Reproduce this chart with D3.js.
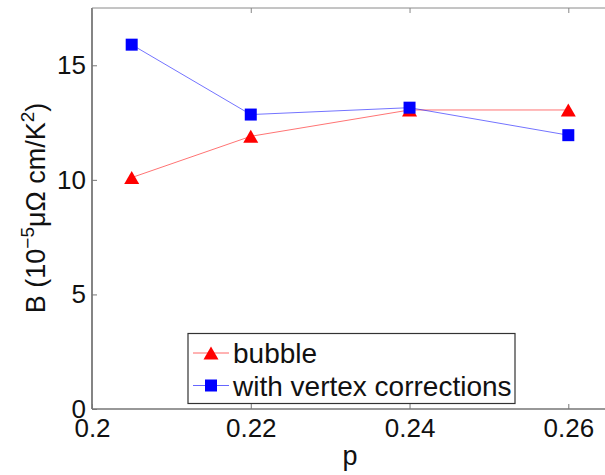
<!DOCTYPE html>
<html>
<head>
<meta charset="utf-8">
<script src="https://cdn.jsdelivr.net/npm/d3@7"></script>
<style>
  html, body { margin: 0; padding: 0; background: #fff; }
  svg { display: block; font-family: "Liberation Sans", Arial, Helvetica, sans-serif; }
</style>
</head>
<body>
<svg id="chart" width="605" height="475"></svg>
<script>
// Doping levels p
const pValues = [0.205, 0.22, 0.24, 0.26];
// B coefficient (10^-5 μΩ cm/K^2)
const bubble = [10.1, 11.9, 13.05, 13.05];
const vertexCorrected = [15.9, 12.85, 13.15, 11.95];
// Axis ticks
const xTicks = [0.2, 0.22, 0.24, 0.26];
const xTickLabels = ["0.2", "0.22", "0.24", "0.26"];
const yTicks = [0, 5, 10, 15];
const seriesNames = ["bubble", "with vertex corrections"];

const svg = d3.select("#chart");
const plotLeft = 92, plotTop = 8, plotBottom = 409, plotRight = 608;

const x = d3.scaleLinear().domain([0.2, 0.265]).range([plotLeft, plotRight]);
const y = d3.scaleLinear().domain([0, 17.5]).range([plotBottom, plotTop]);

const axisColor = "#333";
const tickLen = 5;

// frame
svg.append("line").attr("x1", plotLeft).attr("x2", plotRight).attr("y1", plotTop).attr("y2", plotTop)
  .attr("stroke", "#8a8a8a").attr("stroke-width", 1);
svg.append("line").attr("x1", plotLeft).attr("x2", plotRight).attr("y1", plotBottom).attr("y2", plotBottom)
  .attr("stroke", axisColor).attr("stroke-width", 1.2);
svg.append("line").attr("x1", plotLeft).attr("x2", plotLeft).attr("y1", plotTop).attr("y2", plotBottom)
  .attr("stroke", axisColor).attr("stroke-width", 1.2);

// x axis (ticks pointing inward, mirrored on top)
const xAxis = d3.axisBottom(x).tickValues(xTicks).tickSize(0).tickPadding(10)
  .tickFormat((d, i) => xTickLabels[i]);
const gx = svg.append("g").attr("transform", `translate(0,${plotBottom})`).call(xAxis);
gx.select(".domain").remove();
gx.selectAll("text").attr("font-size", 26).attr("fill", "#111")
  .attr("font-family", "Liberation Sans, Arial, sans-serif");
gx.selectAll(".tick").append("line").attr("y1", 0).attr("y2", -tickLen)
  .attr("stroke", "#777").attr("stroke-width", 1);

const xTopAxis = d3.axisTop(x).tickValues(xTicks).tickSize(0).tickFormat("");
const gxt = svg.append("g").attr("transform", `translate(0,${plotTop})`).call(xTopAxis);
gxt.select(".domain").remove();
gxt.selectAll(".tick").append("line").attr("y1", 0).attr("y2", tickLen)
  .attr("stroke", "#888").attr("stroke-width", 1);

// y axis
const yAxis = d3.axisLeft(y).tickValues(yTicks).tickSize(0).tickPadding(6);
const gy = svg.append("g").attr("transform", `translate(${plotLeft},0)`).call(yAxis);
gy.select(".domain").remove();
gy.selectAll("text").attr("font-size", 26).attr("fill", "#111")
  .attr("font-family", "Liberation Sans, Arial, sans-serif");
gy.selectAll(".tick").append("line").attr("x1", 0).attr("x2", tickLen)
  .attr("stroke", "#777").attr("stroke-width", 1);

// axis titles
svg.append("text").attr("x", (plotLeft + plotRight) / 2).attr("y", 465)
  .attr("text-anchor", "middle").attr("font-size", 27).attr("fill", "#111").text("p");

const yl = svg.append("text")
  .attr("transform", `translate(45,208) rotate(-90)`)
  .attr("text-anchor", "middle").attr("font-size", 27).attr("fill", "#111");
yl.append("tspan").text("B (10");
yl.append("tspan").attr("font-size", 19).attr("dy", -11).text("\u22125");
yl.append("tspan").attr("dy", 11).text("\u03bc\u03a9 cm/K");
yl.append("tspan").attr("font-size", 19).attr("dy", -11).text("2");
yl.append("tspan").attr("dy", 11).text(")");

// marker shapes (centered on the bounding box)
const triPath = (w, h) => `M0,${-h / 2}L${w / 2},${h / 2}L${-w / 2},${h / 2}Z`;
const sqPath = s => `M${-s / 2},${-s / 2}h${s}v${s}h${-s}Z`;

const series = [
  { name: seriesNames[0], values: bubble, color: "#ff0000", shape: triPath(15, 13) },
  { name: seriesNames[1], values: vertexCorrected, color: "#0000ff", shape: sqPath(12) }
];

const line = d3.line().x(d => x(d[0])).y(d => y(d[1]));
const plot = svg.append("g");

series.forEach(s => {
  const pts = pValues.map((p, i) => [p, s.values[i]]);
  plot.append("path").datum(pts).attr("d", line).attr("fill", "none")
    .attr("stroke", s.color).attr("stroke-width", 1).attr("stroke-opacity", 0.55);
});
series.forEach(s => {
  const pts = pValues.map((p, i) => [p, s.values[i]]);
  plot.selectAll(null).data(pts).enter().append("path")
    .attr("d", s.shape)
    .attr("transform", d => `translate(${x(d[0])},${y(d[1])})`)
    .attr("fill", s.color);
});

// legend
const lg = svg.append("g");
lg.append("rect").attr("x", 188).attr("y", 333.5).attr("width", 327).attr("height", 70)
  .attr("fill", "#fff").attr("stroke", "#333").attr("stroke-width", 1.2);
const rowY = [353, 385.5];
series.forEach((s, i) => {
  lg.append("line").attr("x1", 193).attr("x2", 229).attr("y1", rowY[i]).attr("y2", rowY[i])
    .attr("stroke", s.color).attr("stroke-width", 1).attr("stroke-opacity", 0.6);
  lg.append("path").attr("d", s.shape).attr("transform", `translate(211,${rowY[i]})`)
    .attr("fill", s.color);
  lg.append("text").attr("x", 233).attr("y", rowY[i] + 10)
    .attr("font-size", 28).attr("fill", "#111").text(s.name);
});
</script>
</body>
</html>
